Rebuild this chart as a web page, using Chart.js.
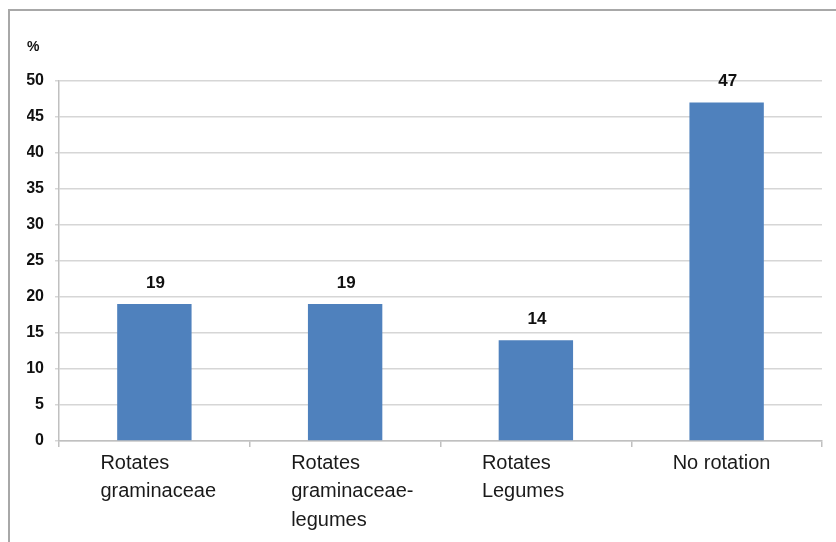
<!DOCTYPE html>
<html>
<head>
<meta charset="utf-8">
<script src="https://cdn.jsdelivr.net/npm/chart.js@4"></script>
<style>
  html, body { margin: 0; padding: 0; background: #fff; }
  #wrap { position: relative; width: 836px; height: 542px; }
  #frame { position: absolute; left: 8px; top: 9px; right: 0; bottom: 0;
           border-left: 2px solid #a8a8a8; border-top: 2px solid #a8a8a8; }
  canvas { position: absolute; left: 0; top: 0; }
</style>
</head>
<body>
<div id="wrap">
  <div id="frame"></div>
  <canvas id="rotation-chart" width="836" height="542"></canvas>
</div>
<script>
// share of farms by crop rotation practice
const categories = [
  ['Rotates', 'graminaceae'],
  ['Rotates', 'graminaceae-', 'legumes'],
  ['Rotates', 'Legumes'],
  ['No rotation']
];
const shares = [19, 19, 14, 47];
const yTicks = [0, 5, 10, 15, 20, 25, 30, 35, 40, 45, 50];

// value labels above each bar
const barValues = {
  id: 'barValues',
  afterDatasetsDraw(chart) {
    const ctx = chart.ctx;
    const meta = chart.getDatasetMeta(0);
    ctx.save();
    ctx.font = 'bold 17px "Liberation Sans", Arial, sans-serif';
    ctx.fillStyle = '#111';
    ctx.textAlign = 'center';
    ctx.textBaseline = 'middle';
    meta.data.forEach((bar, i) => {
      ctx.fillText(shares[i], bar.x + 1, bar.y - 21);
    });
    ctx.restore();
  }
};

const ctx = document.getElementById('rotation-chart');
new Chart(ctx, {
  type: 'bar',
  data: {
    labels: categories,
    datasets: [{
      data: shares,
      backgroundColor: '#4F81BD',
      borderWidth: 0,
      barPercentage: 0.39,
      categoryPercentage: 1
    }]
  },
  options: {
    responsive: false,
    animation: false,
    layout: { padding: { left: 27, right: 14, top: 11, bottom: 0 } },
    plugins: {
      legend: { display: false },
      tooltip: { enabled: false },
      title: {
        display: true,
        text: '%',
        align: 'start',
        color: '#111',
        font: { family: '"Liberation Sans", Arial, sans-serif', size: 14, weight: 'bold' },
        padding: { top: 28, bottom: 25 }
      }
    },
    scales: {
      y: {
        min: 0, max: 50,
        afterBuildTicks: s => { s.ticks = yTicks.map(v => ({ value: v })); },
        afterFit: s => { s.width = 32; },
        ticks: {
          color: '#111',
          padding: 11,
          font: { family: '"Liberation Sans", Arial, sans-serif', size: 16, weight: 'bold' }
        },
        grid: { color: '#d6d6d6', lineWidth: 1.5, tickLength: 4 },
        border: { color: '#c0c0c0', width: 1.5 }
      },
      x: {
        afterFit: s => { s.height = 101; },
        ticks: {
          color: '#1a1a1a',
          align: 'start',
          labelOffset: -54,
          padding: 2,
          autoSkip: false,
          maxRotation: 0,
          font: { family: '"Liberation Sans", Arial, sans-serif', size: 20, lineHeight: 1.43 }
        },
        grid: { drawOnChartArea: false, color: '#c0c0c0', lineWidth: 1.5, tickLength: 6 },
        border: { color: '#c0c0c0', width: 1.5 }
      }
    }
  },
  plugins: [barValues]
});
</script>
</body>
</html>
